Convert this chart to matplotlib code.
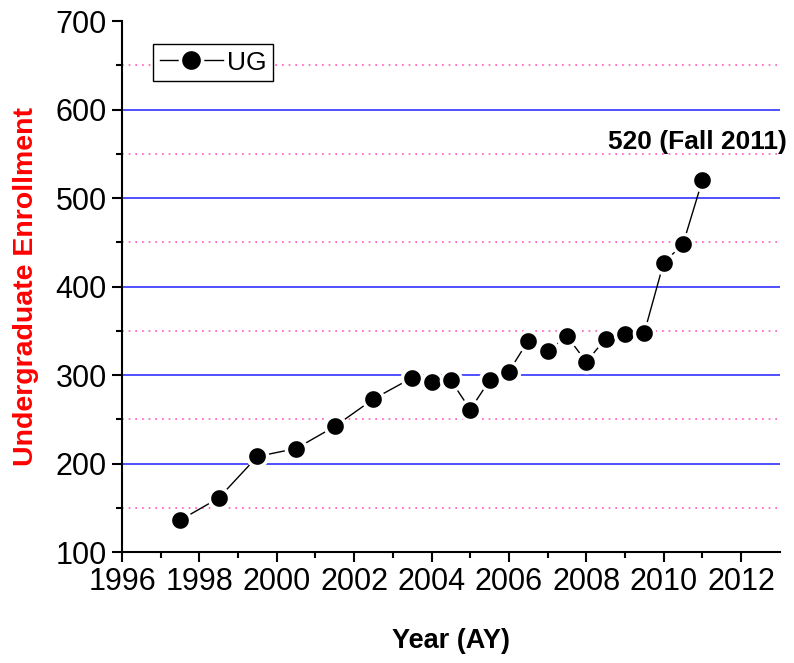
import numpy as np
import matplotlib
matplotlib.use("Agg")
import matplotlib.pyplot as plt

plt.rcParams['font.family'] = ['Liberation Sans', 'DejaVu Sans']

# undergraduate enrollment by academic year
years = [1997.5, 1998.5, 1999.5, 2000.5, 2001.5, 2002.5, 2003.5, 2004.0, 2004.5,
         2005.0, 2005.5, 2006.0, 2006.5, 2007.0, 2007.5, 2008.0, 2008.5, 2009.0,
         2009.5, 2010.0, 2010.5, 2011.0]
ug = [136, 161, 208, 217, 242, 273, 297, 292, 294,
      261, 294, 304, 339, 327, 344, 315, 341, 346,
      348, 427, 448, 520]

x_ticks = list(range(1996, 2013, 2))
y_ticks = list(range(100, 701, 100))
blue_lines = [200, 300, 400, 500, 600]
pink_lines = [150, 250, 350, 450, 550, 650]

fig = plt.figure(figsize=(7.94, 6.63), dpi=100)
ax = fig.add_axes([0.1537, 0.1674, 0.8283, 0.8006])

ax.hlines(blue_lines, 1996, 2013, colors='#2020ff', lw=1.1, zorder=1)
ax.hlines(pink_lines, 1996, 2013, colors='#ff55bb', lw=1.2,
          linestyles=(0, (1, 3)), zorder=1)

ax.plot(years, ug, color='black', lw=1, marker='o', ms=14.5,
        mfc='black', mec='white', mew=2.5, label='UG', zorder=3)

ax.text(2010.88, 563, '520 (Fall 2011)', fontsize=19, fontweight='bold',
        ha='center', va='center')

ax.set_xlim(1996, 2013)
ax.set_ylim(100, 700)
ax.set_xticks(x_ticks)
ax.set_xticks(range(1997, 2013, 2), minor=True)
ax.set_yticks(y_ticks)
ax.set_yticks(range(150, 700, 100), minor=True)

for s in ['top', 'right']:
    ax.spines[s].set_visible(False)
for s in ['left', 'bottom']:
    ax.spines[s].set_linewidth(1.5)

ax.tick_params(which='major', direction='out', length=7, width=1.5,
               labelsize=22, pad=4)
ax.tick_params(which='minor', direction='out', length=4, width=1.5)

ax.set_xlabel('Year (AY)', fontsize=19.5, fontweight='bold', labelpad=22)
ax.set_ylabel('Undergraduate Enrollment', fontsize=20.5, fontweight='bold',
              color='red', labelpad=12)

leg = ax.legend(loc='upper left', bbox_to_anchor=(0.047, 0.957), fontsize=19,
                frameon=True, fancybox=False, edgecolor='black', framealpha=1,
                handlelength=2.4, borderpad=0.25, handletextpad=0.15,
                borderaxespad=0, markerscale=1.1)
leg.get_frame().set_linewidth(1)

fig.savefig('out.png', dpi=100)
